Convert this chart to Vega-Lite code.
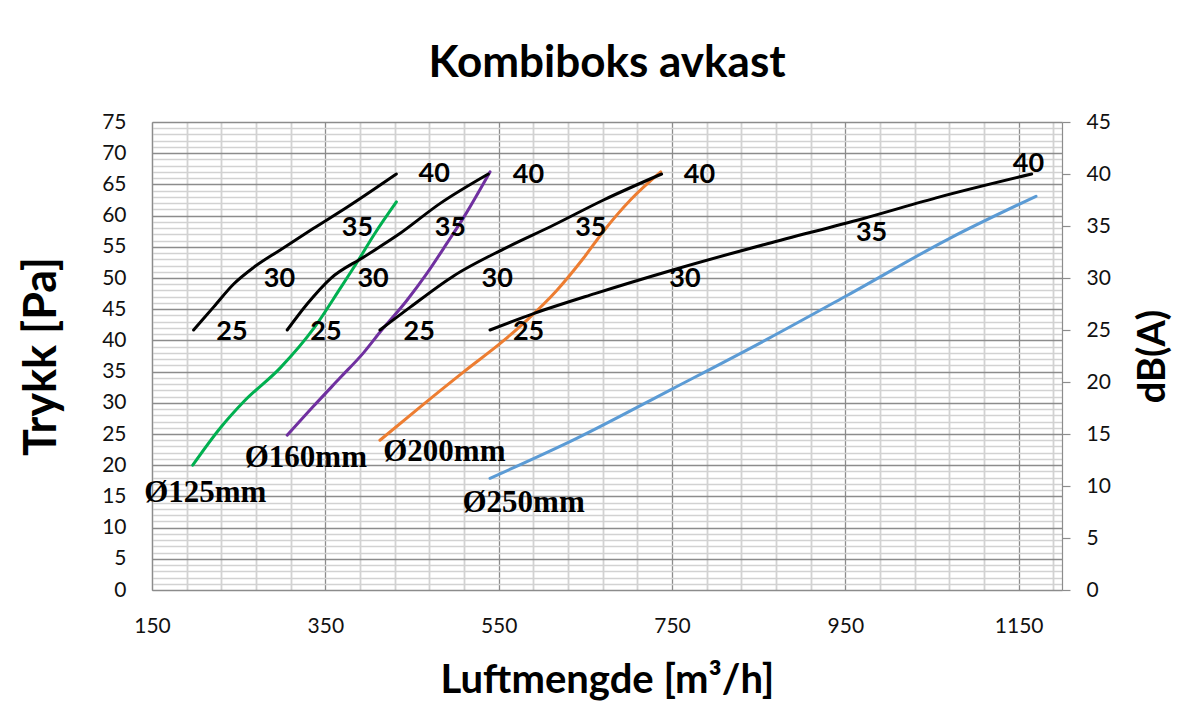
{
  "$schema": "https://vega.github.io/schema/vega-lite/v6.json",
  "width": 910,
  "height": 468,
  "autosize": {"type": "none"},
  "padding": {"left": 152, "top": 122, "right": 140, "bottom": 138},
  "background": "white",
  "config": {
    "view": {"stroke": null},
    "font": "Lato"
  },
  "title": {
    "text": "Kombiboks avkast",
    "font": "Lato",
    "fontSize": 44,
    "fontWeight": "bold",
    "color": "#000000",
    "anchor": "middle",
    "offset": 25
  },
  "datasets": {
    "pa": [
      {"series": "Ø125mm", "flow": 197, "pa": 20},
      {"series": "Ø125mm", "flow": 229, "pa": 26.0},
      {"series": "Ø125mm", "flow": 256, "pa": 30.2},
      {"series": "Ø125mm", "flow": 298, "pa": 35.6},
      {"series": "Ø125mm", "flow": 337, "pa": 42},
      {"series": "Ø125mm", "flow": 367, "pa": 48.3},
      {"series": "Ø125mm", "flow": 387, "pa": 52.6},
      {"series": "Ø125mm", "flow": 406, "pa": 56.9},
      {"series": "Ø125mm", "flow": 432, "pa": 62.2},
      {"series": "Ø160mm", "flow": 306, "pa": 24.8},
      {"series": "Ø160mm", "flow": 336, "pa": 29.4},
      {"series": "Ø160mm", "flow": 367, "pa": 34.0},
      {"series": "Ø160mm", "flow": 394, "pa": 38.0},
      {"series": "Ø160mm", "flow": 413, "pa": 41.3},
      {"series": "Ø160mm", "flow": 444, "pa": 46.4},
      {"series": "Ø160mm", "flow": 467, "pa": 50.7},
      {"series": "Ø160mm", "flow": 490, "pa": 55.5},
      {"series": "Ø160mm", "flow": 510, "pa": 59.8},
      {"series": "Ø160mm", "flow": 540, "pa": 67},
      {"series": "Ø200mm", "flow": 413, "pa": 24},
      {"series": "Ø200mm", "flow": 460, "pa": 29.4},
      {"series": "Ø200mm", "flow": 510, "pa": 35.0},
      {"series": "Ø200mm", "flow": 556, "pa": 40},
      {"series": "Ø200mm", "flow": 583, "pa": 43.3},
      {"series": "Ø200mm", "flow": 617, "pa": 48},
      {"series": "Ø200mm", "flow": 648, "pa": 53.2},
      {"series": "Ø200mm", "flow": 671, "pa": 57.5},
      {"series": "Ø200mm", "flow": 702, "pa": 62.5},
      {"series": "Ø200mm", "flow": 737, "pa": 67},
      {"series": "Ø250mm", "flow": 540, "pa": 17.9},
      {"series": "Ø250mm", "flow": 640, "pa": 24.3},
      {"series": "Ø250mm", "flow": 750, "pa": 32.2},
      {"series": "Ø250mm", "flow": 860, "pa": 40.2},
      {"series": "Ø250mm", "flow": 952, "pa": 47.2},
      {"series": "Ø250mm", "flow": 1071, "pa": 56.4},
      {"series": "Ø250mm", "flow": 1170, "pa": 63.1}
    ],
    "diam": [
      {"text": "Ø125mm", "flow": 211.5, "pa": 15.6},
      {"text": "Ø160mm", "flow": 327.5, "pa": 21.2},
      {"text": "Ø200mm", "flow": 487.3, "pa": 22.1},
      {"text": "Ø250mm", "flow": 578.8, "pa": 13.9}
    ],
    "db": [
      {"series": "Ø125mm", "flow": 198, "db": 25},
      {"series": "Ø125mm", "flow": 221, "db": 27.2},
      {"series": "Ø125mm", "flow": 244, "db": 29.4},
      {"series": "Ø125mm", "flow": 267, "db": 31.0},
      {"series": "Ø125mm", "flow": 298, "db": 32.7},
      {"series": "Ø125mm", "flow": 336, "db": 34.75},
      {"series": "Ø125mm", "flow": 375, "db": 36.8},
      {"series": "Ø125mm", "flow": 432, "db": 40},
      {"series": "Ø160mm", "flow": 306, "db": 25},
      {"series": "Ø160mm", "flow": 329, "db": 27.5},
      {"series": "Ø160mm", "flow": 356, "db": 29.95},
      {"series": "Ø160mm", "flow": 394, "db": 32},
      {"series": "Ø160mm", "flow": 433, "db": 34.1},
      {"series": "Ø160mm", "flow": 483, "db": 37.2},
      {"series": "Ø160mm", "flow": 538, "db": 40},
      {"series": "Ø200mm", "flow": 413, "db": 25},
      {"series": "Ø200mm", "flow": 448, "db": 27.2},
      {"series": "Ø200mm", "flow": 498, "db": 30.2},
      {"series": "Ø200mm", "flow": 556, "db": 32.8},
      {"series": "Ø200mm", "flow": 613, "db": 35.07},
      {"series": "Ø200mm", "flow": 671, "db": 37.5},
      {"series": "Ø200mm", "flow": 738, "db": 40},
      {"series": "Ø250mm", "flow": 540, "db": 25},
      {"series": "Ø250mm", "flow": 591, "db": 26.6},
      {"series": "Ø250mm", "flow": 661, "db": 28.5},
      {"series": "Ø250mm", "flow": 750, "db": 30.75},
      {"series": "Ø250mm", "flow": 860, "db": 33.3},
      {"series": "Ø250mm", "flow": 970, "db": 35.7},
      {"series": "Ø250mm", "flow": 1059, "db": 37.8},
      {"series": "Ø250mm", "flow": 1165, "db": 40}
    ],
    "dblabels": [
      {"series": "Ø125mm", "text": "25", "flow": 242.3, "db": 24.82},
      {"series": "Ø125mm", "text": "30", "flow": 297.1, "db": 29.86},
      {"series": "Ø125mm", "text": "35", "flow": 387.1, "db": 34.76},
      {"series": "Ø125mm", "text": "40", "flow": 475.7, "db": 39.97},
      {"series": "Ø160mm", "text": "25", "flow": 350.8, "db": 24.82},
      {"series": "Ø160mm", "text": "30", "flow": 405.1, "db": 29.88},
      {"series": "Ø160mm", "text": "35", "flow": 494.2, "db": 34.78},
      {"series": "Ø160mm", "text": "40", "flow": 584.4, "db": 39.88},
      {"series": "Ø200mm", "text": "25", "flow": 458.4, "db": 24.82},
      {"series": "Ø200mm", "text": "30", "flow": 548.4, "db": 29.86},
      {"series": "Ø200mm", "text": "35", "flow": 656.3, "db": 34.83},
      {"series": "Ø200mm", "text": "40", "flow": 781.7, "db": 39.88},
      {"series": "Ø250mm", "text": "25", "flow": 584.5, "db": 24.82},
      {"series": "Ø250mm", "text": "30", "flow": 765, "db": 29.86},
      {"series": "Ø250mm", "text": "35", "flow": 980.3, "db": 34.28},
      {"series": "Ø250mm", "text": "40", "flow": 1161.3, "db": 41.0}
    ]
  },
  "layer": [
    {
      "layer": [
        {
          "data": {"name": "pa"},
          "mark": {"type": "line", "interpolate": "monotone", "strokeWidth": 3, "strokeCap": "round"},
          "encoding": {
            "x": {
              "field": "flow", "type": "quantitative",
              "scale": {"domain": [150, 1200], "nice": false, "zero": false},
              "axis": {
                "values": [150,190,230,270,310,350,390,430,470,510,550,590,630,670,710,750,790,830,870,910,950,990,1030,1070,1110,1150,1190],
                "tickCount": 1000,
                "format": "d",
                "labelExpr": "(datum.value - 150) % 200 === 0 ? datum.label : ''",
                "labelOverlap": false,
                "labelFlush": false,
                "labelFont": "Lato",
                "labelFontSize": 21,
                "labelColor": "#111111",
                "labelPadding": 25,
                "tickSize": 0,
                "ticks": false,
                "domainColor": "#8c8c8c",
                "domainWidth": 1.2,
                "grid": true,
                "gridColor": {"condition": {"test": "(datum.value - 150) % 200 === 0", "value": "#8c8c8c"}, "value": "#d2d2d2"},
                "gridWidth": {"condition": {"test": "(datum.value - 150) % 200 === 0", "value": 1.3}, "value": 1.8},
                "title": "Luftmengde [m³/h]",
                "titleFont": "Lato",
                "titleFontSize": 40,
                "titleFontWeight": "bold",
                "titleColor": "#000000",
                "titlePadding": 24
              }
            },
            "y": {
              "field": "pa", "type": "quantitative",
              "scale": {"domain": [0, 75], "nice": false, "zero": true},
              "axis": {
                "orient": "left",
                "values": [0,1,2,3,4,5,6,7,8,9,10,11,12,13,14,15,16,17,18,19,20,21,22,23,24,25,26,27,28,29,30,31,32,33,34,35,36,37,38,39,40,41,42,43,44,45,46,47,48,49,50,51,52,53,54,55,56,57,58,59,60,61,62,63,64,65,66,67,68,69,70,71,72,73,74,75],
                "tickCount": 1000,
                "format": "d",
                "labelExpr": "datum.value % 5 === 0 ? datum.label : ''",
                "labelOverlap": false,
                "labelFlush": false,
                "labelFont": "Lato",
                "labelFontSize": 21,
                "labelColor": "#111111",
                "labelPadding": 26,
                "tickSize": 0,
                "ticks": false,
                "domainColor": "#8c8c8c",
                "domainWidth": 1.2,
                "grid": true,
                "gridColor": {"condition": {"test": "datum.value % 5 === 0", "value": "#8c8c8c"}, "value": "#d2d2d2"},
                "gridWidth": {"condition": {"test": "datum.value % 5 === 0", "value": 1.3}, "value": 1.5},
                "title": "Trykk [Pa]",
                "titleFont": "Lato",
                "titleFontSize": 45,
                "titleFontWeight": "bold",
                "titleColor": "#000000",
                "titlePadding": 37
              }
            },
            "color": {
              "field": "series", "type": "nominal",
              "scale": {"domain": ["Ø125mm", "Ø160mm", "Ø200mm", "Ø250mm"], "range": ["#00B050", "#7030A0", "#ED7D31", "#5B9BD5"]},
              "legend": null
            }
          }
        },
        {
          "data": {"name": "diam"},
          "mark": {"type": "text", "font": "Liberation Serif", "fontSize": 31, "fontWeight": "bold", "color": "#000000", "align": "center", "baseline": "middle"},
          "encoding": {
            "x": {"field": "flow", "type": "quantitative"},
            "y": {"field": "pa", "type": "quantitative"},
            "text": {"field": "text", "type": "nominal"}
          }
        }
      ]
    },
    {
      "layer": [
        {
          "data": {"name": "db"},
          "mark": {"type": "line", "interpolate": "monotone", "strokeWidth": 3, "strokeCap": "round", "color": "#000000"},
          "encoding": {
            "x": {"field": "flow", "type": "quantitative"},
            "y": {
              "field": "db", "type": "quantitative",
              "scale": {"domain": [0, 45], "nice": false, "zero": true},
              "axis": {
                "orient": "right",
                "values": [0,5,10,15,20,25,30,35,40,45],
                "tickCount": 1000,
                "format": "d",
                "labelFont": "Lato",
                "labelFontSize": 21,
                "labelColor": "#111111",
                "labelPadding": 16,
                "labelFlush": false,
                "labelOverlap": false,
                "tickSize": 8,
                "tickColor": "#8c8c8c",
                "tickWidth": 1.2,
                "domainColor": "#8c8c8c",
                "domainWidth": 1.2,
                "grid": false,
                "title": "dB(A)",
                "titleFont": "Lato",
                "titleFontSize": 38,
                "titleFontWeight": "bold",
                "titleColor": "#000000",
                "titleAngle": 270,
                "titleBaseline": "top",
                "titlePadding": 24
              }
            },
            "detail": {"field": "series", "type": "nominal"}
          }
        },
        {
          "data": {"name": "dblabels"},
          "mark": {"type": "text", "font": "Lato", "fontSize": 27, "fontWeight": "bold", "color": "#000000", "align": "center", "baseline": "middle"},
          "encoding": {
            "x": {"field": "flow", "type": "quantitative"},
            "y": {"field": "db", "type": "quantitative"},
            "text": {"field": "text", "type": "nominal"}
          }
        }
      ]
    }
  ],
  "resolve": {"scale": {"y": "independent"}}
}
